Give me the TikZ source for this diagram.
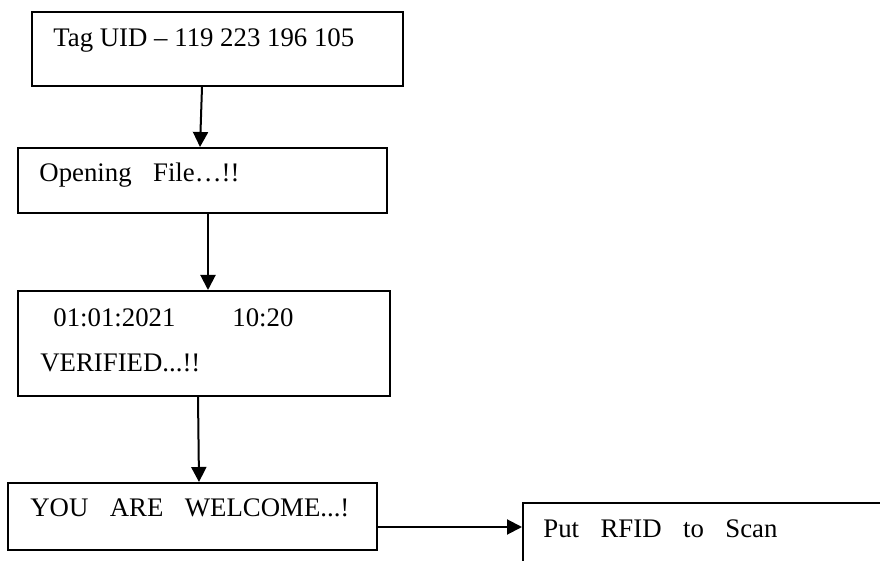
\documentclass[tikz,border=0pt]{standalone}
\usepackage{fontspec}
\setmainfont{Liberation Serif}
\usetikzlibrary{arrows.meta, positioning, fit, calc}
\newcommand{\wgap}{\hspace{0.8em}}

\begin{document}
\begin{tikzpicture}[
  x=0.5pt, y=-0.5pt,
  every node/.style={font=\fontsize{13.4}{16}\selectfont},
  box/.style={rectangle, draw, line width=1pt, inner sep=0pt},
  lbl/.style={anchor=base west, inner sep=0pt},
  arr/.style={-{Triangle[length=7.5pt, width=7.5pt]}, line width=1pt},
]
\useasboundingbox (0,0) rectangle (880,561);
\clip (0,0) rectangle (880,561);

% Boxes
\node[box, fit={(32,12) (403,86)}] (tag) {};
\node[box, fit={(18,148) (387,213)}] (open) {};
\node[box, fit={(18,291) (390,396)}] (info) {};
\node[box, fit={(8,483) (377,550)}] (welcome) {};
\node[box, fit={(523,503) (900,590)}] (scan) {};

% Texts
\node[lbl] (tagtxt) at (53,47) {Tag UID -- 119 223 196 105};
\node[lbl] (opentxt) at (39,182) {Opening\wgap File…!!};
\node[lbl] (datetxt) at (53,327) {01:01:2021};
\node[lbl] (timetxt) at (232,327) {10:20};
\node[lbl] (vertxt) at (40,372) {VERIFIED...!!};
\node[lbl] (welcometxt) at (30,517) {YOU\wgap ARE\wgap WELCOME...!};
\node[lbl] (scantxt) at (543,538) {Put\wgap RFID\wgap to\wgap Scan};

% Arrows
\draw[arr] (tag.south -| 202,0) -- (open.north -| 200,0);
\draw[arr] (open.south -| 208,0) -- (info.north -| 208,0);
\draw[arr] (info.south -| 198,0) -- (welcome.north -| 199,0);
\draw[arr] (welcome.east |- 0,527) -- (scan.west |- 0,527);

\end{tikzpicture}
\end{document}
